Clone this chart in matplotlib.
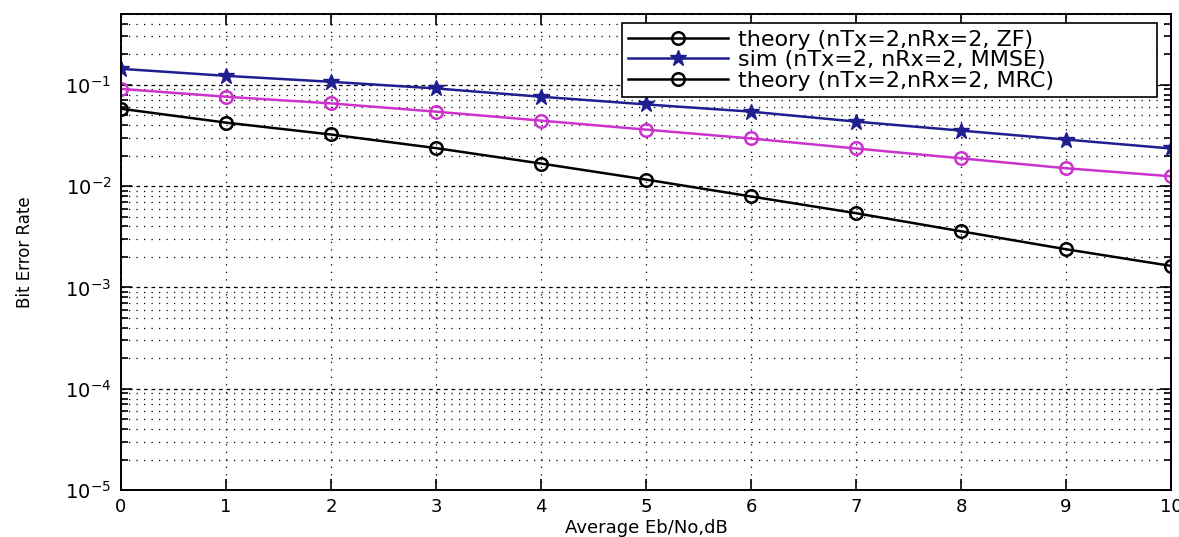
import numpy as np
import matplotlib
matplotlib.use("Agg")
import matplotlib.pyplot as plt
from matplotlib.ticker import LogLocator, NullFormatter

# datos
snr_db = [0, 1, 2, 3, 4, 5, 6, 7, 8, 9, 10]
ber_zf_theory = [0.058, 0.0423, 0.0323, 0.0237, 0.0167, 0.0116, 0.0079, 0.0054, 0.00358, 0.00238, 0.00163]
ber_mmse_theory = [0.091, 0.0762, 0.0655, 0.0543, 0.0443, 0.0361, 0.0295, 0.0235, 0.0188, 0.0150, 0.0125]
ber_mmse_sim = [0.1437, 0.1225, 0.107, 0.092, 0.0762, 0.064, 0.0543, 0.0433, 0.0353, 0.0288, 0.0235]
legend_labels = ['theory (nTx=2,nRx=2, ZF)', 'sim (nTx=2, nRx=2, MMSE)', 'theory (nTx=2,nRx=2, MRC)']

plt.rcParams['font.family'] = ['DejaVu Sans']

fig = plt.figure(figsize=(11.79, 5.37), dpi=100)
ax = fig.add_axes([0.1026, 0.0875, 0.9932 - 0.1026, 0.974 - 0.0875])

h_zf, = ax.semilogy(snr_db, ber_zf_theory, '-o', color='black', lw=1.8,
                    mfc='none', mec='black', mew=1.8, ms=9)
h_pink, = ax.semilogy(snr_db, ber_mmse_theory, '-o', color='#cc33cc', lw=1.8,
                      mfc='none', mec='#cc33cc', mew=1.8, ms=9)
h_sim, = ax.semilogy(snr_db, ber_mmse_sim, '-*', color='#1f1f8f', lw=1.8,
                     mfc='#1f1f8f', mec='#1f1f8f', ms=12)

ax.set_xlim(0, 10)
ax.set_ylim(1e-5, 0.5)
ax.set_xticks(snr_db)
ax.yaxis.set_major_locator(LogLocator(base=10, numticks=10))
ax.yaxis.set_minor_locator(LogLocator(base=10, subs=np.arange(2, 10), numticks=20))
ax.yaxis.set_minor_formatter(NullFormatter())

# rejilla tipo matlab
ax.grid(True, which='major', axis='x', color='black', linestyle=(0, (1, 5)), linewidth=0.9)
ax.grid(True, which='major', axis='y', color='black', linestyle=(0, (3, 3)), linewidth=0.9)
ax.grid(True, which='minor', axis='y', color='black', linestyle=(0, (1, 5)), linewidth=0.9)

ax.tick_params(which='both', direction='in', top=True, right=True, width=1.2)
ax.tick_params(which='major', length=8, labelsize=13, pad=6)
ax.tick_params(axis='y', which='major', labelsize=14, pad=7)
ax.tick_params(which='minor', length=5)
for s in ax.spines.values():
    s.set_linewidth(1.4)

ax.set_xlabel('Average Eb/No,dB', fontsize=13, labelpad=2)
ax.set_ylabel('Bit Error Rate', fontsize=12, labelpad=22)

leg = ax.legend([h_zf, h_sim, h_zf], legend_labels, loc='upper left',
                bbox_to_anchor=(0.477, 0.813, 0.51, 0.168), mode='expand',
                fontsize=16, handlelength=4.5, handletextpad=0.45,
                labelspacing=0.02, borderpad=0.3, borderaxespad=0,
                fancybox=False, framealpha=1, edgecolor='black')
leg.get_frame().set_linewidth(1.2)

plt.savefig('out.png', dpi=100)
